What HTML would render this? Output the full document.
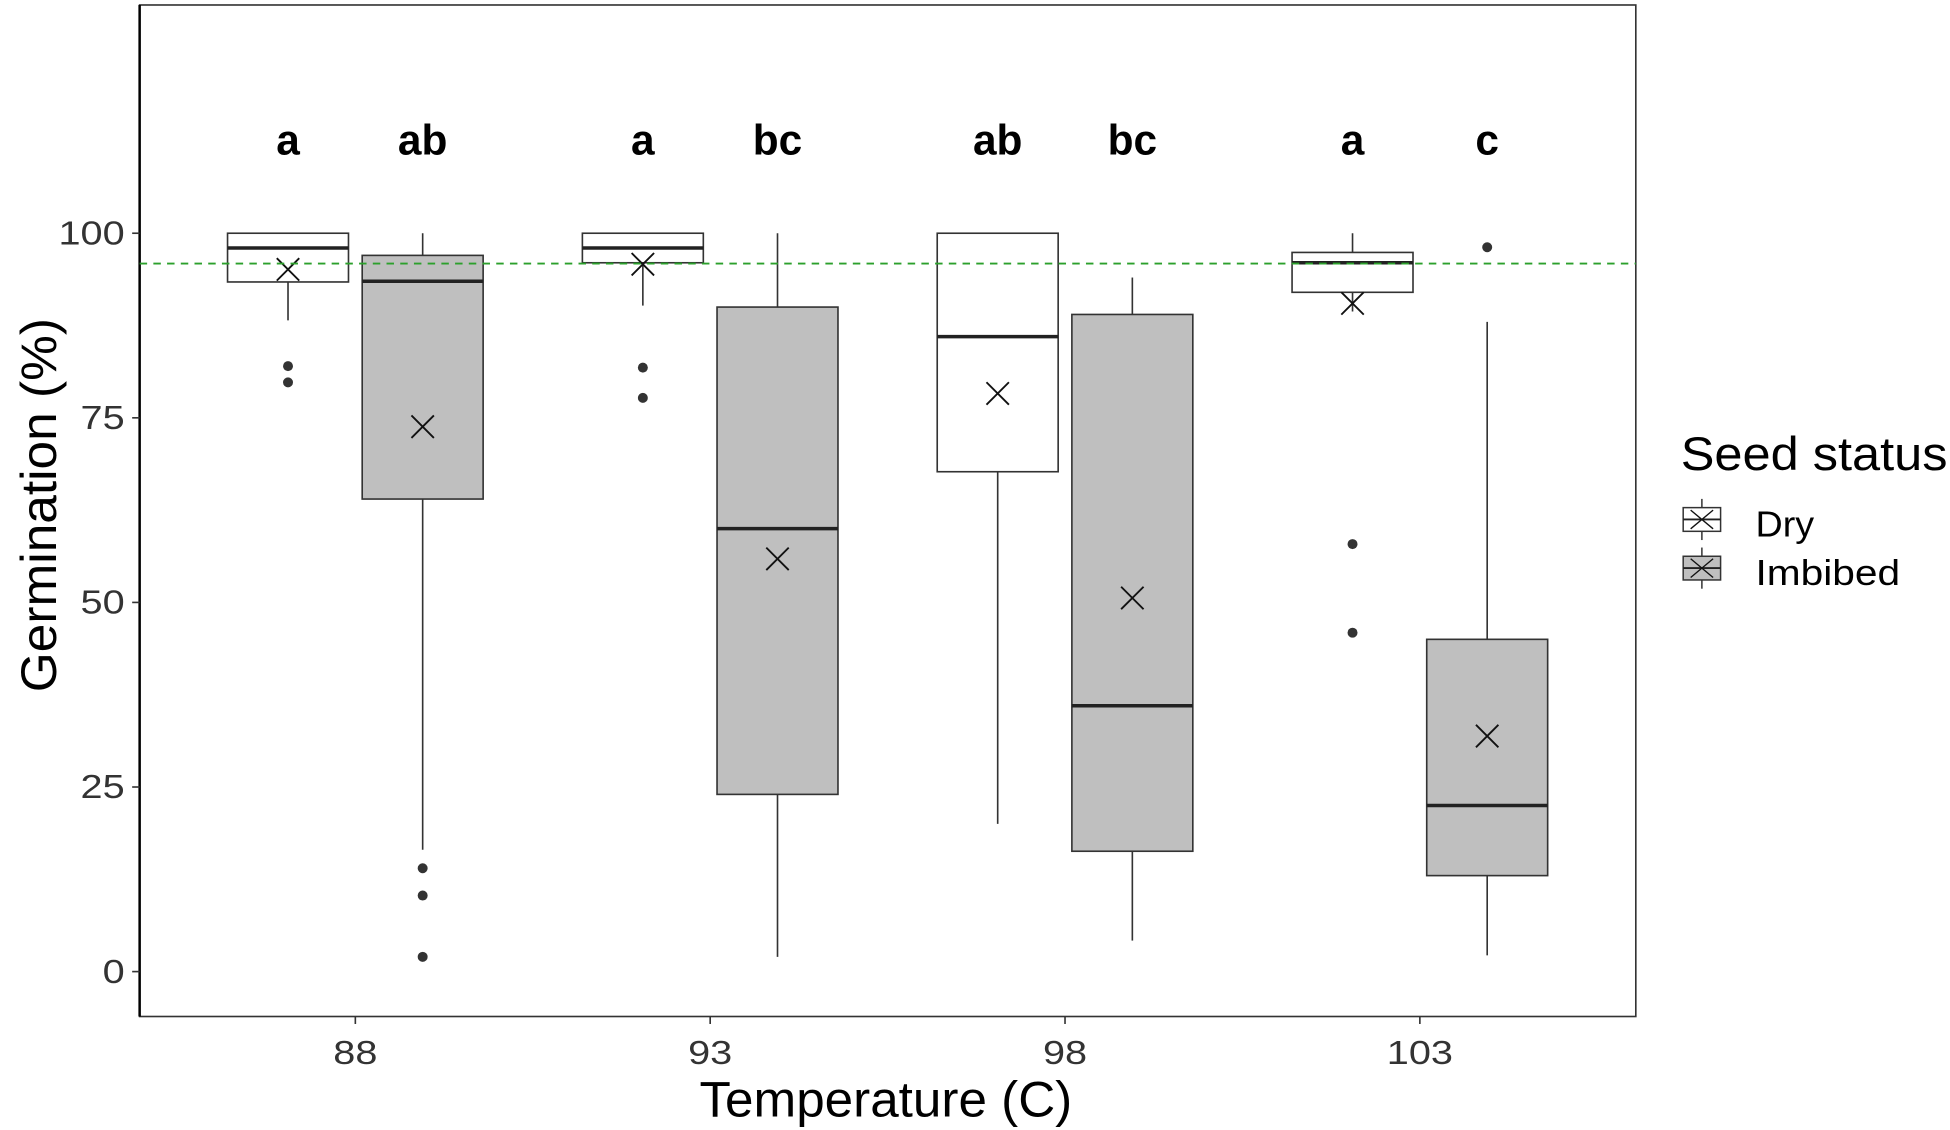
<!DOCTYPE html>
<html><head><meta charset="utf-8"><style>
html,body{margin:0;padding:0;background:#fff;}
svg{display:block;font-family:"Liberation Sans",Arial,sans-serif;}
</style></head><body>
<svg id="chart" width="1950" height="1130" viewBox="0 0 1564 906" preserveAspectRatio="none" xmlns="http://www.w3.org/2000/svg">
<rect x="0" y="0" width="1564" height="906" fill="#fff"/>
<g id="plot"></g>
</svg>
<script>
const categories = ["88","93","98","103"];
const groups = ["Dry","Imbibed"];
const whiskerHi = [[100,100],[100,100],[100,94],[100,88]];
const q3Vals    = [[100,97],[100,90],[100,89],[97.4,45]];
const medians   = [[98,93.5],[98,60],[86,36],[96,22.5]];
const q1Vals    = [[93.4,64],[96,24],[67.7,16.3],[92,13]];
const whiskerLo = [[88.2,16.5],[90.2,2],[20,4.2],[89.4,2.2]];
const meanVals  = [[95.1,73.8],[95.8,55.9],[78.3,50.6],[90.5,31.9]];
const outliers  = [[[82,79.8],[14,10.3,2]],[[81.8,77.7],[]],[[],[]],[[57.9,45.9],[98.1]]];
const letters   = [["a","ab"],["a","bc"],["ab","bc"],["a","c"]];
const yTicks = [0,25,50,75,100];
const refLine = 95.9;

const NS="http://www.w3.org/2000/svg";
const g=document.getElementById('plot');
const L=112,R=1312,T=4,B=815;
function yS(v){return 779-(v/100)*592;}
function xS(i){return 285+i*284.6;}
const dodge=[-54,54], halfW=48.5;
const fills=["#ffffff","#bfbfbf"];
function mk(tag,attrs,name,parent){const e=document.createElementNS(NS,tag);for(const k in attrs)e.setAttribute(k,attrs[k]);


(parent||g).appendChild(e);return e;}
function tl(s,w){return {textLength:w,lengthAdjust:'spacingAndGlyphs'};}
mk('rect',{x:L,y:T,width:R-L,height:B-T,fill:'none',stroke:'#333','stroke-width':1.3},'panel-border');
mk('line',{x1:L,y1:T,x2:L,y2:B,stroke:'#000','stroke-width':2},'y-axis-line');
yTicks.forEach(v=>{const y=yS(v);
mk('line',{x1:L-6,y1:y,x2:L,y2:y,stroke:'#333','stroke-width':1.3},'y-tick');
const s=String(v);
const t=mk('text',Object.assign({x:L-12,y:y+9,'text-anchor':'end','font-size':27,fill:'#333'},tl(s,s.length*17.7)),'y-tick-label');t.textContent=s;});
categories.forEach((c,i)=>{const x=xS(i);
mk('line',{x1:x,y1:B,x2:x,y2:B+6,stroke:'#333','stroke-width':1.3},'x-tick');
const t=mk('text',Object.assign({x:x,y:B+38,'text-anchor':'middle','font-size':27,fill:'#333'},tl(c,c.length*17.7)),'x-tick-label');t.textContent=c;});
categories.forEach((c,i)=>{groups.forEach((gr,j)=>{
 const cx=xS(i)+dodge[j];
 mk('line',{x1:cx,y1:yS(whiskerHi[i][j]),x2:cx,y2:yS(q3Vals[i][j]),stroke:'#333','stroke-width':1.3},'whisker-upper');
 mk('line',{x1:cx,y1:yS(q1Vals[i][j]),x2:cx,y2:yS(whiskerLo[i][j]),stroke:'#333','stroke-width':1.3},'whisker-lower');
 mk('rect',{x:cx-halfW,y:yS(q3Vals[i][j]),width:2*halfW,height:yS(q1Vals[i][j])-yS(q3Vals[i][j]),fill:fills[j],stroke:'#333','stroke-width':1.3},'box-'+gr.toLowerCase()+'-'+c);
 mk('line',{x1:cx-halfW,y1:yS(medians[i][j]),x2:cx+halfW,y2:yS(medians[i][j]),stroke:'#222','stroke-width':2.8},'median-line');
 outliers[i][j].forEach(v=>mk('circle',{cx:cx,cy:yS(v),r:4,fill:'#333'},'outlier-point'));
 const my=yS(meanVals[i][j]);
 mk('path',{d:`M${cx-9} ${my-9}L${cx+9} ${my+9}M${cx-9} ${my+9}L${cx+9} ${my-9}`,stroke:'#111','stroke-width':1.5,fill:'none'},'mean-marker');
 const t=mk('text',{x:cx,y:124,'text-anchor':'middle','font-size':34,'font-weight':'bold',fill:'#000'},'significance-letter');t.textContent=letters[i][j];
});});
mk('line',{x1:L,y1:yS(refLine),x2:R,y2:yS(refLine),stroke:'#2ca02c','stroke-width':1.5,'stroke-dasharray':'6,5'},'reference-line');
let t=mk('text',Object.assign({x:561,y:895,'font-size':40,fill:'#000'},tl('',299)),'x-axis-title');t.textContent='Temperature (C)';
t=mk('text',Object.assign({x:0,y:0,transform:'translate(45,555) rotate(-90)','font-size':40,fill:'#000'},tl('',300)),'y-axis-title');t.textContent='Germination (%)';
t=mk('text',Object.assign({x:1348,y:377,'font-size':38,fill:'#000'},tl('',214)),'legend-title');t.textContent='Seed status';
const legW=[47,116];
groups.forEach((gr,j)=>{const y0=407+j*39;
 const lg=mk('g',{},'legend-entry-'+gr.toLowerCase());
 mk('line',{x1:1365,y1:y0-7,x2:1365,y2:y0+26,stroke:'#333','stroke-width':1.2},'legend-key-whisker',lg);
 mk('rect',{x:1350,y:y0,width:30,height:19,fill:fills[j],stroke:'#333','stroke-width':1.2},'legend-key-box',lg);
 mk('line',{x1:1350,y1:y0+9.5,x2:1380,y2:y0+9.5,stroke:'#222','stroke-width':1.5},'legend-key-median',lg);
 mk('path',{d:`M1356 ${y0+2}L1374 ${y0+17}M1356 ${y0+17}L1374 ${y0+2}`,stroke:'#111','stroke-width':1.1,fill:'none'},'legend-key-mean',lg);
 const tt=mk('text',Object.assign({x:1408,y:y0+23,'font-size':29,fill:'#000'},tl('',legW[j])),'legend-label',lg);tt.textContent=gr;
});
</script>
</body></html>
